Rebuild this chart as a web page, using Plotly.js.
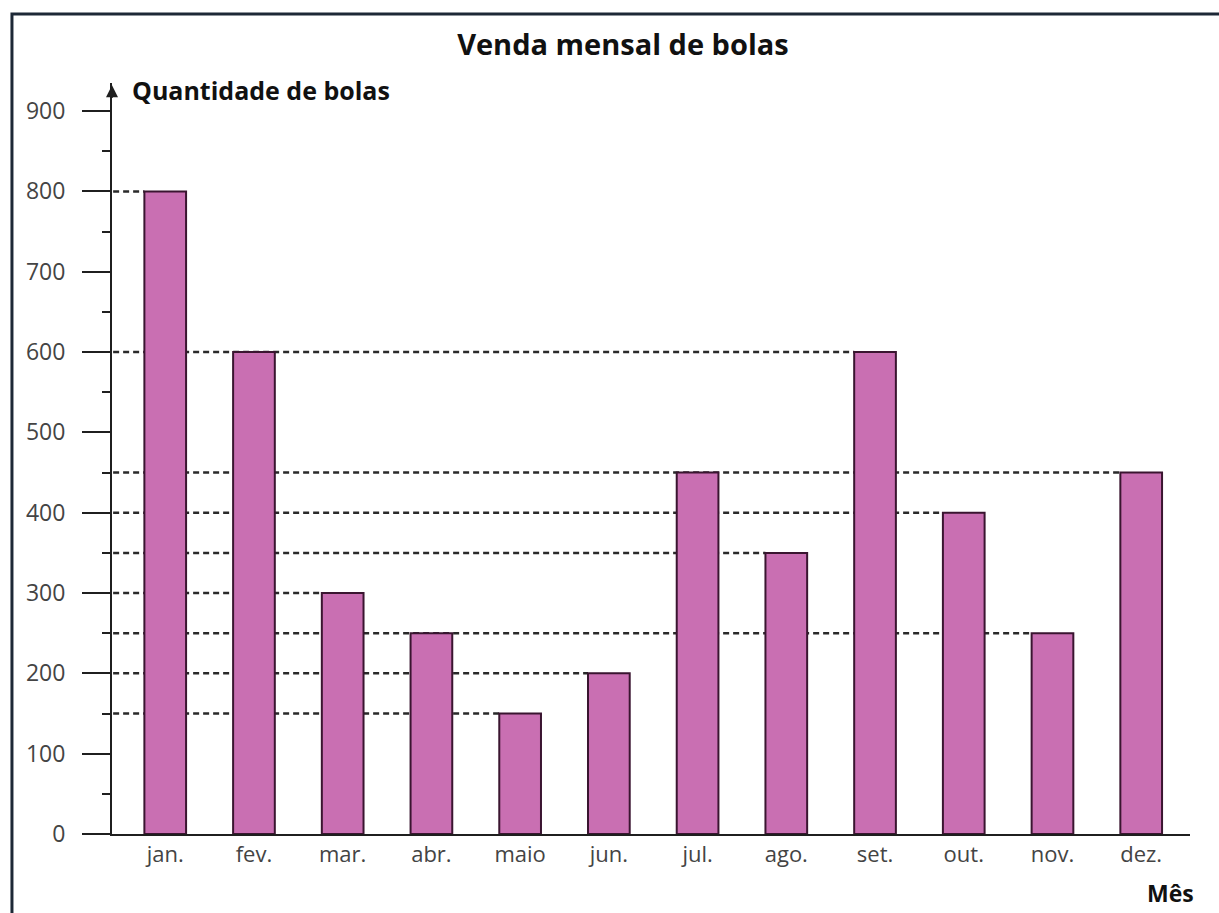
<!DOCTYPE html>
<html>
<head>
<meta charset="utf-8">
<script src="https://cdn.plot.ly/plotly-3.0.1.min.js"></script>
<style>
  html, body { margin: 0; padding: 0; background: #ffffff; }
  #chart { width: 1219px; height: 913px; }
</style>
</head>
<body>
<div id="chart"></div>
<script>
// ---- data ----
const months = ["jan.", "fev.", "mar.", "abr.", "maio", "jun.", "jul.", "ago.", "set.", "out.", "nov.", "dez."];
const balls = [800, 600, 300, 250, 150, 200, 450, 350, 600, 400, 250, 450];
const yTicks = [0, 100, 200, 300, 400, 500, 600, 700, 800, 900];
const chartTitle = "Venda mensal de bolas";
const yTitle = "Quantidade de bolas";
const xTitle = "Mês";

// ---- style ----
const barWidth = 0.47;
const xMin = -0.6, xMax = 11.55;
const ink = "#1f1f1f";

// dashed guide lines: from the y axis to the farthest bar with each value
const shapes = [];
const seen = {};
balls.forEach((v, i) => { seen[v] = i; });
Object.keys(seen).forEach(k => {
  const v = Number(k);
  const last = seen[k];
  shapes.push({
    type: "line", xref: "x", yref: "y", layer: "below",
    x0: xMin - 0.1, x1: last - barWidth / 2, y0: v, y1: v,
    line: { color: "#2a2a2a", width: 2.5, dash: "6px,4px" }
  });
});
// outer frame (top and left edges)
shapes.push({
  type: "path", xref: "paper", yref: "paper", layer: "above",
  path: "M -0.0928,-0.2 L -0.0928,1.0919 L 1.1,1.0919",
  line: { color: "#1d2836", width: 3 }
});

const trace = {
  type: "bar",
  x: months.map((m, i) => i),
  y: balls,
  width: barWidth,
  marker: { color: "#c96fb2", line: { color: "#3a1530", width: 2 } },
  hoverinfo: "x+y"
};

const layout = {
  width: 1219, height: 913,
  margin: { l: 112, r: 29, t: 83, b: 79 },
  paper_bgcolor: "#ffffff",
  plot_bgcolor: "rgba(0,0,0,0)",
  showlegend: false,
  font: { family: "Open Sans, sans-serif", color: "#3a3a3a" },
  title: {
    text: chartTitle,
    font: { family: "Open Sans, sans-serif", size: 29, color: "#111", weight: "bold" },
    xref: "container", x: 0.511, xanchor: "center",
    yref: "container", y: 0.951, yanchor: "middle"
  },
  xaxis: {
    range: [xMin, xMax],
    tickmode: "array",
    tickvals: months.map((m, i) => i),
    ticktext: months,
    ticks: "",
    showgrid: false, zeroline: false,
    showline: true, linecolor: ink, linewidth: 2,
    tickfont: { size: 22, color: "#444" },
    fixedrange: true
  },
  yaxis: {
    range: [0, 935],
    tickmode: "array",
    tickvals: yTicks,
    ticks: "outside", ticklen: 28, tickwidth: 2, tickcolor: ink,
    ticklabelstandoff: 12,
    minor: { dtick: 50, ticks: "outside", ticklen: 8, tickwidth: 2, tickcolor: ink },
    showgrid: false, zeroline: false,
    showline: true, linecolor: ink, linewidth: 2,
    tickfont: { size: 23, color: "#444" },
    fixedrange: true
  },
  shapes: shapes,
  annotations: [
    {
      text: yTitle, xref: "paper", yref: "paper",
      x: 0.0167, y: 0.9907, xanchor: "left", yanchor: "middle",
      showarrow: false,
      font: { family: "Open Sans, sans-serif", size: 25, color: "#111", weight: "bold" }
    },
    {
      text: xTitle, xref: "paper", yref: "paper",
      x: 0.9815, y: -0.078, xanchor: "center", yanchor: "middle",
      showarrow: false,
      font: { family: "Open Sans, sans-serif", size: 23, color: "#111", weight: "bold" }
    },
    {
      text: "", xref: "paper", yref: "paper", x: 0, y: 0.997,
      showarrow: true, ax: 0, ay: 14, arrowhead: 2, arrowsize: 1.2, arrowwidth: 2,
      arrowcolor: ink
    }
  ]
};

Plotly.newPlot("chart", [trace], layout, { displayModeBar: false, staticPlot: true });
</script>
</body>
</html>
